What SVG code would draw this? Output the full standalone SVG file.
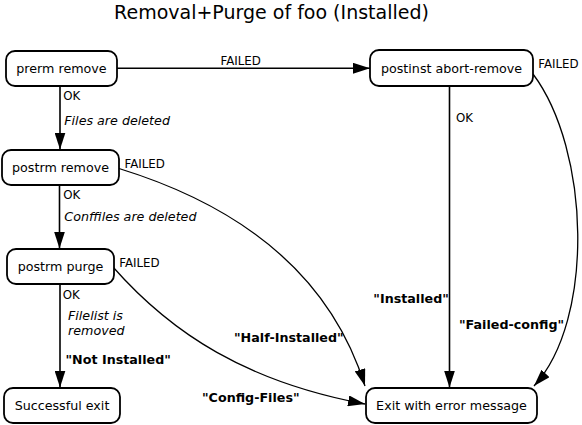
<svg xmlns="http://www.w3.org/2000/svg" width="582" height="425" viewBox="0 0 582 425">
<style>
text{font-family:"DejaVu Sans","Noto Sans",sans-serif;fill:#000}
.title{font-size:19px;text-anchor:middle}
.node rect{fill:#fff;stroke:#000;stroke-width:1.8}
.node text{font-size:12.7px;text-anchor:middle}
.lbl{font-size:11.8px}
.it{font-size:12.7px;font-style:italic}
.b{font-size:12.7px;font-weight:bold}
.edge{fill:none;stroke:#000;stroke-width:1.6}
.curve{fill:none;stroke:#000;stroke-width:1.3}
</style>
<defs>
<marker id="arr" viewBox="0 0 17 11" refX="17" refY="5.5" markerWidth="17" markerHeight="11" markerUnits="userSpaceOnUse" orient="auto">
<path d="M0,0 L17,5.5 L0,11 z" fill="#000"/>
</marker>
</defs>
<text class="title" x="271.5" y="19">Removal+Purge of foo (Installed)</text>
<g id="connectors">
<path class="edge" d="M117,68.3 H370" marker-end="url(#arr)"/>
<path class="edge" d="M60,86 V149.5" marker-end="url(#arr)"/>
<path class="edge" d="M59.5,185 V248.5" marker-end="url(#arr)"/>
<path class="edge" d="M60,284 V387.5" marker-end="url(#arr)"/>
<path class="edge" d="M449.5,86 V387.5" marker-end="url(#arr)"/>
<path class="curve" d="M533,74 C590,150 595,320 534,386" marker-end="url(#arr)"/>
<path class="curve" d="M119,168.5 C260,212 335,290 365,386" marker-end="url(#arr)"/>
<path class="curve" d="M113,267 C172,334 247,382 365,404" marker-end="url(#arr)"/>
<text class="lbl" x="220.5" y="64.5">FAILED</text>
<text class="lbl" x="63.3" y="100">OK</text>
<text class="it" x="64.3" y="124.5">Files are deleted</text>
<text class="lbl" x="124.5" y="168">FAILED</text>
<text class="lbl" x="63.3" y="199">OK</text>
<text class="it" x="64.3" y="220.5">Conffiles are deleted</text>
<text class="lbl" x="119.3" y="266.5">FAILED</text>
<text class="lbl" x="62.7" y="299">OK</text>
<text class="it" x="68" y="320">Filelist is</text>
<text class="it" x="68" y="335">removed</text>
<text class="b" x="65.5" y="364">"Not Installed"</text>
<text class="lbl" x="456" y="122">OK</text>
<text class="lbl" x="538.3" y="68">FAILED</text>
<text class="b" x="373.3" y="303.3">"Installed"</text>
<text class="b" x="459" y="329">"Failed-config"</text>
<text class="b" x="234" y="341.7">"Half-Installed"</text>
<text class="b" x="202" y="401.5">"Config-Files"</text>
</g>
<g id="prerm-remove" class="node"><rect x="6" y="51" width="111" height="35" rx="9"/><text x="61.5" y="73">prerm remove</text></g>
<g id="postrm-remove" class="node"><rect x="2" y="150" width="117" height="35" rx="9"/><text x="60.5" y="172">postrm remove</text></g>
<g id="postrm-purge" class="node"><rect x="7" y="249" width="107" height="35" rx="9"/><text x="60.5" y="271">postrm purge</text></g>
<g id="successful-exit" class="node"><rect x="4" y="388" width="116" height="35" rx="9"/><text x="62" y="410">Successful exit</text></g>
<g id="postinst-abort-remove" class="node"><rect x="370" y="50" width="163" height="36" rx="9"/><text x="451.5" y="72.5">postinst abort-remove</text></g>
<g id="exit-error" class="node"><rect x="366" y="388" width="171" height="35" rx="9"/><text x="451.5" y="410">Exit with error message</text></g>
</svg>
